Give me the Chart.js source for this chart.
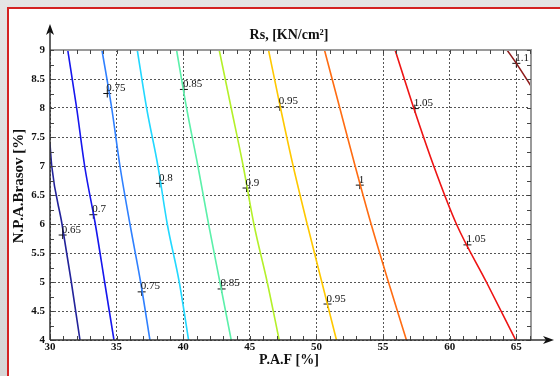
<!DOCTYPE html>
<html>
<head>
<meta charset="utf-8">
<script src="https://cdn.jsdelivr.net/npm/chart.js@4.4.1/dist/chart.umd.min.js"></script>
<style>
  html, body { margin: 0; padding: 0; background: #fff; }
  #wrap { position: relative; width: 560px; height: 376px; overflow: hidden;
          background: linear-gradient(#e4e4e4, #d6d6d6); }
  #frame { position: absolute; left: 7px; top: 7px; width: 600px; height: 420px;
           background: #fff; border-left: 2px solid #d42222; border-top: 2px solid #d42222; }
  #chart { position: absolute; left: 0; top: 0; }
</style>
</head>
<body>
<div id="wrap">
  <div id="frame"></div>
  <canvas id="chart" width="560" height="376"></canvas>
</div>
<script>
// axis ranges and tick labels
const xMin = 30, xMax = 66.1, yMin = 4, yMax = 9;
const xTicks = [30, 35, 40, 45, 50, 55, 60, 65];
const yTicks = [4, 4.5, 5, 5.5, 6, 6.5, 7, 7.5, 8, 8.5, 9];

// contour lines, x read at each y row
const yRows = [9, 8, 7, 6, 5, 4];
const x065 = [30.0, 30.13, 30.9, 31.6, 32.25];
const y065 = [7.38, 7, 6, 5, 4];
const x070 = [31.33, 32.0, 32.6, 33.4, 34.1, 34.8];
const x075 = [33.9, 34.63, 35.25, 36.0, 36.8, 37.5];
const x080 = [36.55, 37.25, 38.1, 38.8, 39.7, 40.4];
const x085 = [39.5, 40.25, 41.1, 41.9, 42.75, 43.6];
const x090 = [42.7, 43.6, 44.5, 45.3, 46.3, 47.2];
const x095 = [46.4, 47.3, 48.25, 49.3, 50.4, 51.5];
const x100 = [50.6, 51.75, 52.9, 54.1, 55.4, 56.75];
const x105 = [55.9, 57.3, 58.8, 60.5, 62.75, 64.95];
const x110 = [64.3, 65.0, 66.1];
const y110 = [9, 8.77, 8.38];

const levelNames = ['0.65', '0.7', '0.75', '0.8', '0.85', '0.9', '0.95', '1', '1.05', '1.1'];
const levelColors = ['#23239a', '#1616ee', '#2f80ff', '#22d8ff', '#5cf0aa',
                     '#b4f02a', '#ffc800', '#ff6c12', '#ee1414', '#8e1c1c'];

// contour labels (the "+" marks)
const labelText = ['0.65', '0.7', '0.75', '0.75', '0.8', '0.85', '0.85', '0.9',
                   '0.95', '0.95', '1', '1.05', '1.05', '1.1'];
const labelX = [30.95, 33.25, 34.3, 36.88, 38.25, 40.05, 42.88, 44.75, 47.25, 50.83, 53.25, 57.38, 61.33, 65.0];
const labelY = [5.81, 6.16, 8.25, 4.83, 6.7, 8.32, 4.88, 6.62, 8.02, 4.62, 6.67, 7.99, 5.64, 8.77];

const contours = [
  [x065, y065], [x070, yRows], [x075, yRows], [x080, yRows], [x085, yRows],
  [x090, yRows], [x095, yRows], [x100, yRows], [x105, yRows], [x110, y110],
];

const datasets = contours.map(([xs, ys], i) => ({
  label: levelNames[i],
  data: xs.map((x, j) => ({ x, y: ys[j] })),
  showLine: true,
  borderColor: levelColors[i],
  borderWidth: 1.6,
  pointRadius: 0,
  cubicInterpolationMode: 'monotone',
}));

datasets.push({
  label: 'labels',
  data: labelX.map((x, i) => ({ x, y: labelY[i] })),
  showLine: false,
  pointStyle: 'cross',
  pointRadius: 4,
  borderColor: '#111',
  borderWidth: 1,
});

const SERIF = '"Liberation Serif", "Times New Roman", serif';

const decor = {
  id: 'decor',
  afterDatasetsDraw(chart) {
    const { ctx, scales: { x, y } } = chart;
    ctx.save();
    ctx.fillStyle = '#111';
    ctx.font = '11px ' + SERIF;
    ctx.textBaseline = 'alphabetic';
    labelText.forEach((t, i) => {
      ctx.fillText(t, x.getPixelForValue(labelX[i]) - 1, y.getPixelForValue(labelY[i]) - 2.5);
    });
    ctx.restore();
  },
  afterDraw(chart) {
    const { ctx, chartArea: a, scales: { x, y } } = chart;
    ctx.save();

    // top / right box edges
    ctx.strokeStyle = '#9a9a9a';
    ctx.lineWidth = 2;
    ctx.beginPath();
    ctx.moveTo(a.left, a.top); ctx.lineTo(a.right, a.top); ctx.lineTo(a.right, a.bottom);
    ctx.stroke();

    // minor ticks inside on all sides
    ctx.strokeStyle = '#444';
    ctx.lineWidth = 1;
    ctx.beginPath();
    for (let v = xMin; v <= xMax; v += 1) {
      const px = Math.round(x.getPixelForValue(v)) + 0.5;
      ctx.moveTo(px, a.bottom); ctx.lineTo(px, a.bottom - 4);
      ctx.moveTo(px, a.top); ctx.lineTo(px, a.top + 4);
    }
    for (let v = yMin; v <= yMax; v += 0.25) {
      const py = Math.round(y.getPixelForValue(v)) + 0.5;
      ctx.moveTo(a.left, py); ctx.lineTo(a.left + 4, py);
      ctx.moveTo(a.right, py); ctx.lineTo(a.right - 4, py);
    }
    ctx.stroke();

    // axes with arrows
    ctx.strokeStyle = '#333';
    ctx.fillStyle = '#111';
    ctx.lineWidth = 1.5;
    ctx.beginPath();
    ctx.moveTo(a.left, a.bottom); ctx.lineTo(a.left, 27);
    ctx.moveTo(a.left, a.bottom); ctx.lineTo(550, a.bottom);
    ctx.stroke();
    ctx.beginPath();
    ctx.moveTo(a.left, 24); ctx.lineTo(a.left - 4, 35); ctx.lineTo(a.left, 32); ctx.lineTo(a.left + 4, 35);
    ctx.closePath(); ctx.fill();
    ctx.beginPath();
    ctx.moveTo(554, a.bottom); ctx.lineTo(543, a.bottom - 4); ctx.lineTo(546, a.bottom); ctx.lineTo(543, a.bottom + 4);
    ctx.closePath(); ctx.fill();

    // titles
    ctx.fillStyle = '#111';
    ctx.textAlign = 'center';
    ctx.textBaseline = 'middle';
    ctx.font = 'bold 14px ' + SERIF;
    ctx.fillText('Rs, [KN/cm²]', 289, 35);
    ctx.fillText('P.A.F [%]', 289, 360);
    ctx.translate(19, 186);
    ctx.rotate(-Math.PI / 2);
    ctx.font = 'bold 15px ' + SERIF;
    ctx.fillText('N.P.A.Brasov [%]', 0, 0);
    ctx.restore();
  },
};

const tickFont = { family: SERIF, size: 11, weight: 'bold' };

new Chart(document.getElementById('chart'), {
  type: 'scatter',
  data: { datasets },
  options: {
    responsive: false,
    animation: false,
    layout: { padding: { left: 8, top: 50, right: 29, bottom: 0 } },
    plugins: { legend: { display: false }, tooltip: { enabled: false } },
    scales: {
      x: {
        type: 'linear', min: xMin, max: xMax,
        afterFit: s => { s.height = 36; },
        afterBuildTicks: s => { s.ticks = xTicks.map(value => ({ value })); },
        ticks: { padding: 1, color: '#111', font: tickFont, callback: v => String(v) },
        grid: { color: '#555', lineWidth: 1, drawTicks: false },
        border: { display: false, dash: [2, 2] },
      },
      y: {
        type: 'linear', min: yMin, max: yMax,
        afterFit: s => { s.width = 42; },
        afterBuildTicks: s => { s.ticks = yTicks.map(value => ({ value })); },
        ticks: { padding: 5, color: '#111', font: tickFont, callback: v => String(v) },
        grid: { color: '#555', lineWidth: 1, drawTicks: false },
        border: { display: false, dash: [2, 2] },
      },
    },
  },
  plugins: [decor],
});
</script>
</body>
</html>
